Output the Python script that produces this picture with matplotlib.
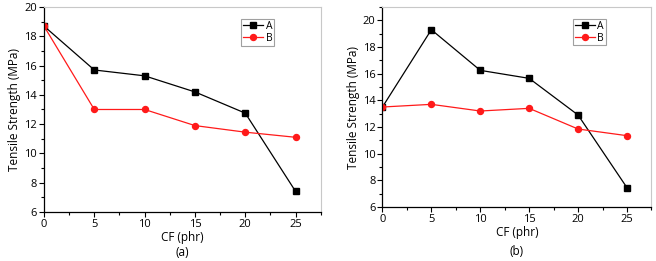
import numpy as np
import matplotlib.pyplot as plt
from matplotlib.ticker import MultipleLocator

plt.rcParams['font.family'] = ['Open Sans', 'DejaVu Sans']

cf = [0, 5, 10, 15, 20, 25]
a_series_a = [18.7, 15.7, 15.3, 14.2, 12.75, 7.4]
a_series_b = [18.7, 13.0, 13.0, 11.9, 11.45, 11.1]
b_series_a = [13.5, 19.3, 16.25, 15.65, 12.9, 7.45]
b_series_b = [13.5, 13.7, 13.2, 13.4, 11.85, 11.35]

fig = plt.figure(figsize=(6.56, 2.61), dpi=100)
ax1 = fig.add_axes([0.067, 0.188, 0.422, 0.785])
ax2 = fig.add_axes([0.583, 0.207, 0.410, 0.766])


def draw_panel(ax, ya, yb, ylim, tag, tag_y):
    ax.plot(cf, ya, color='black', marker='s', markersize=3.8, linewidth=0.9, label='A')
    ax.plot(cf, yb, color='#ff1a1a', marker='o', markersize=4.3, linewidth=0.9, label='B')
    ax.set_xlim(0, 27.5)
    ax.set_ylim(*ylim)
    ax.set_xticks(cf)
    ax.set_yticks(np.arange(6, 21, 2))
    ax.xaxis.set_minor_locator(MultipleLocator(2.5))
    ax.yaxis.set_minor_locator(MultipleLocator(1))
    ax.tick_params(which='major', direction='out', length=3.5, width=0.8,
                   labelsize=8, pad=1.5, top=False, right=False)
    ax.tick_params(which='minor', direction='out', length=2, width=0.8,
                   top=False, right=False)
    for s in ['top', 'right']:
        ax.spines[s].set_color('#c8c8c8')
        ax.spines[s].set_linewidth(0.8)
    for s in ['left', 'bottom']:
        ax.spines[s].set_linewidth(0.9)
    ax.set_xlabel('CF (phr)', fontsize=8.5, labelpad=1)
    ax.set_ylabel('Tensile Strength (MPa)', fontsize=8.5, labelpad=2)
    ax.text(0.5, tag_y, tag, transform=ax.transAxes, ha='center', va='top', fontsize=8.5)
    leg = ax.legend(loc='upper right', bbox_to_anchor=(0.83, 0.94), fontsize=7.5,
                    frameon=True, fancybox=False, edgecolor='#888888',
                    handlelength=2.0, handletextpad=0.2, borderpad=0.15,
                    labelspacing=0.1, borderaxespad=0)
    leg.get_frame().set_linewidth(0.8)


draw_panel(ax1, a_series_a, a_series_b, (6, 20), '(a)', -0.168)
draw_panel(ax2, b_series_a, b_series_b, (6, 21), '(b)', -0.19)

fig.savefig('out.png', dpi=100)
